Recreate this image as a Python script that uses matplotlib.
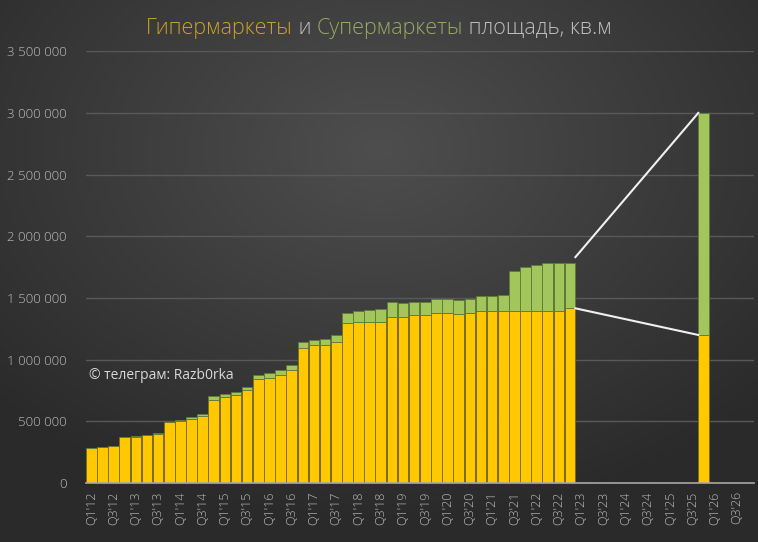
import numpy as np
import matplotlib.pyplot as plt

# Quarters from Q1'12 to Q4'26
years = list(range(12, 27))
quarters = [f"Q{q}'{y}" for y in years for q in range(1, 5)]

# Hypermarkets area (sq.m), Q1'12 .. Q4'22
hyper = [281000, 294000, 303000, 375000, 376000, 386000, 400000, 495000,
         505000, 519000, 540000, 673000, 700000, 713000, 751000, 841000,
         854000, 876000, 913000, 1097000, 1116000, 1120000, 1143000, 1300000,
         1303000, 1303000, 1303000, 1346000, 1346000, 1362000, 1362000, 1378000,
         1378000, 1370000, 1378000, 1397000, 1397000, 1397000, 1397000, 1397000,
         1397000, 1397000, 1397000, 1416000]
# Hyper + super total, Q1'12 .. Q4'22
total = [281000, 294000, 303000, 375000, 378000, 388000, 402000, 497000,
         508000, 535000, 562000, 705000, 722000, 740000, 778000, 878000,
         892000, 914000, 957000, 1141000, 1159000, 1168000, 1197000, 1381000,
         1392000, 1400000, 1408000, 1468000, 1459000, 1465000, 1465000, 1489000,
         1489000, 1484000, 1489000, 1516000, 1516000, 1527000, 1722000, 1749000,
         1770000, 1781000, 1781000, 1786000]

# Target bar
target_q = "Q4'25"
target_hyper = 1200000
target_total = 3000000

yellow = '#ffc800'
green = '#a2c55c'

hyper = np.array(hyper)
supr = np.array(total) - hyper
x = np.arange(len(hyper))
xt = quarters.index(target_q)

fig = plt.figure(figsize=(7.58, 5.42), dpi=100)

# Dark radial background
bg = fig.add_axes([0, 0, 1, 1], zorder=-10)
gx, gy = np.meshgrid(np.linspace(-1, 1, 400), np.linspace(-1, 1, 300))
r = np.sqrt((gx * 0.9) ** 2 + ((gy + 0.45) * 0.9) ** 2)
g = 0x4e - (0x4e - 0x2a) * np.clip(r / 1.25, 0, 1)
img = np.dstack([g, g, g]) / 255.0
bg.imshow(img, aspect='auto', extent=[0, 1, 0, 1], origin='upper')
bg.set_axis_off()

ax = fig.add_axes([0.1131, 0.1089, 0.8813, 0.7965])
ax.patch.set_alpha(0)

ax.bar(x, hyper, width=0.95, color=yellow, edgecolor='#7a6a1a', linewidth=0.6, zorder=3)
ax.bar(x, supr, bottom=hyper, width=0.95, color=green, edgecolor='#5f7a35', linewidth=0.6, zorder=3)
ax.bar(xt, target_hyper, width=0.95, color=yellow, edgecolor='#7a6a1a', linewidth=0.6, zorder=3)
ax.bar(xt, target_total - target_hyper, bottom=target_hyper, width=0.95,
       color=green, edgecolor='#5f7a35', linewidth=0.6, zorder=3)

# Connecting lines
last = len(hyper) - 1
ax.plot([last + 0.48, xt - 0.48], [total[-1] + 45000, target_total], color='#f0f0f0', lw=1.5, zorder=4)
ax.plot([last + 0.48, xt - 0.48], [hyper[-1], target_hyper], color='#f0f0f0', lw=1.5, zorder=4)

ax.set_xlim(-0.5, len(quarters) - 0.5)
ax.set_ylim(0, 3500000)
yt = np.arange(0, 3500001, 500000)
ax.set_yticks(yt)
ax.set_yticklabels([f"{v:,}".replace(",", " ") for v in yt])
ax.set_xticks(np.arange(0, len(quarters), 2))
ax.set_xticklabels(quarters[::2], rotation=90)
ax.tick_params(axis='y', length=0, pad=14, labelsize=9.5, colors='#bdbdbd')
ax.tick_params(axis='x', length=0, pad=6, labelsize=9, colors='#bdbdbd')
for lbl in ax.get_xticklabels() + ax.get_yticklabels():
    lbl.set_family('Open Sans')
    lbl.set_fontweight('light')

ax.grid(axis='y', color='#595959', lw=1, zorder=0)
for s in ['top', 'right', 'left']:
    ax.spines[s].set_visible(False)
ax.spines['bottom'].set_color('#a8a8a8')
ax.spines['bottom'].set_linewidth(1.2)
ax.spines['bottom'].set_zorder(5)

ax.text(-0.2, 870000, '© телеграм: Razb0rka', color='#d8d8d8', fontsize=10,
        family='Open Sans', va='center', zorder=6)

# Multi-coloured title
parts = [('Гипермаркеты', '#c9a227'), (' и ', '#bfbfbf'),
         ('Супермаркеты', '#98a964'), (' площадь, кв.м', '#bfbfbf')]
fig.canvas.draw()
renderer = fig.canvas.get_renderer()
texts = []
xpos = 0
for s, c in parts:
    t = fig.text(xpos, 0.948, s, color=c, fontsize=15.5, family='Open Sans',
                 fontweight='light', va='center')
    w = t.get_window_extent(renderer).width / fig.bbox.width
    texts.append((t, w))
    xpos += w
start = 0.5 - xpos / 2
for t, w in texts:
    t.set_x(start)
    start += w

fig.savefig('out.png', dpi=100)
